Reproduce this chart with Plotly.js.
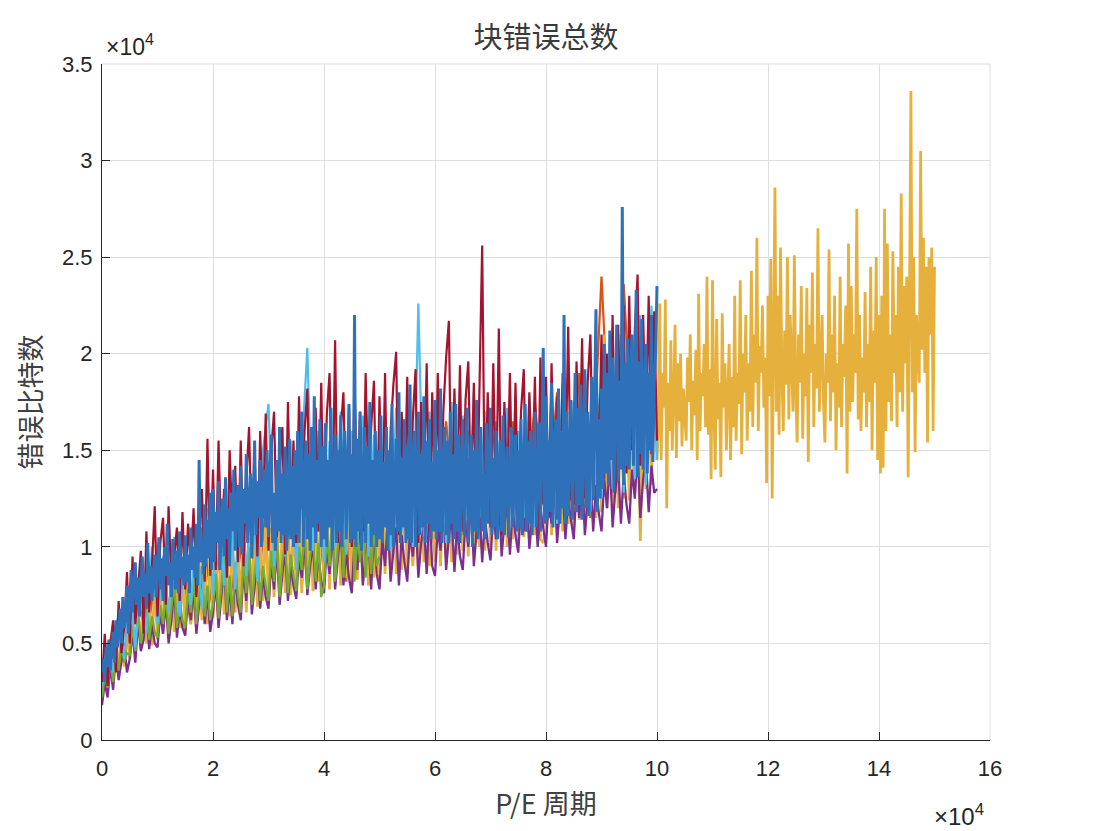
<!DOCTYPE html>
<html><head><meta charset="utf-8">
<script src="https://cdn.plot.ly/plotly-3.0.1.min.js"></script>
<style>html,body{margin:0;padding:0;background:#fff}#chart{width:1100px;height:831px}</style>
</head><body><div id="chart"></div>
<script>
// P/E cycle spacing of the samples of each series
const STEP_BLUE = 250, STEP_RED = 500, STEP_LIGHTBLUE = 1000, STEP_PURPLE = 500,
      STEP_GREEN = 500, STEP_ORANGE = 2000, STEP_YELLOW = 500;
const YELLOW_TAIL_START = 100000, STEP_YELLOW_TAIL = 250;

// Tick labels (MATLAB style, x10^4 multiplier)
const xTickVals = [0,20000,40000,60000,80000,100000,120000,140000,160000];
const xTickText = ['0','2','4','6','8','10','12','14','16'];
const yTickVals = [0,5000,10000,15000,20000,25000,30000,35000];
const yTickText = ['0','0.5','1','1.5','2','2.5','3','3.5'];

// Block error counts (bit errors)
const orangeVals = [2500,6000,4000,8000,5200,9000,5800,9800,6000,11000,
  6600,12000,7000,13000,7400,13500,7800,14000,8000,14500,
  8500,15000,8200,15500,8800,15000,9000,16000,9200,15500,
  9500,16500,9800,16000,10000,17000,10500,16500,10800,17500,
  11000,18000,11200,19000,11500,24000,12000,23600,13000,19500,
  16000];

const yellowVals = [2000,3800,2500,4500,3000,5200,3400,5800,3800,6000,
  4200,6600,4500,7000,4700,7200,5000,7500,4900,8000,
  5200,7800,5500,8200,5400,8500,5600,8000,5800,8800,
  5700,9000,6000,8600,5800,9200,6200,9500,6000,9800,
  6300,10000,6000,10500,6500,9800,6400,10800,6600,10200,
  6800,11000,6600,10500,7000,11200,6900,10800,7200,11500,
  7200,11000,7400,11800,7300,11200,7600,12000,7500,11500,
  7800,12200,7600,11800,8000,12500,7700,12000,8200,12800,
  8000,12200,7800,13000,8200,12500,8000,13200,8400,12600,
  8000,13000,8300,12500,8200,13500,8000,12800,8400,13000,
  8200,13200,8600,12800,8400,13600,8600,13000,8800,13800,
  8600,13200,9000,14000,8800,13400,9200,14200,9000,13600,
  9200,14000,9000,13500,9400,14400,9200,13800,9600,14200,
  9800,14000,9500,14500,9700,13800,10000,14600,9800,14200,
  10000,14500,9800,14000,10200,14800,10000,14200,10400,15000,
  10200,14500,10500,15200,10300,14600,10600,15000,10400,10200,
  10800,15500,10600,15000,11000,15800,10800,15200,11200,16000,
  11000,16200,11400,15500,11200,16500,11600,15800,11500,16800,
  11800,21000,12000,16200,12200,17500,12000,16800,12500,18000,
  12400,17200,12800,18500,10300,17000,13000,18200,13200,19000,
  14500];

// yellow series continues alone beyond 10x10^4 cycles
const yellowTailVals = [16200,22600,14500,19000,17200,22800,12000,18500,16000,20700,15000,17800,21500,14600,19500,16500,20000,15200,18200,17000,
  15500,19800,17500,21000,15000,18600,16800,20200,14500,23100,16000,19000,17800,20500,16200,24000,15800,19200,13500,23800,
  17000,14000,21800,16600,18500,13600,22100,17200,19500,15000,18000,20500,14500,18800,16200,23000,15500,19000,17400,23800,
  14800,20000,18000,22000,15500,19500,17000,24300,16200,21000,18500,26000,16000,20400,19000,22500,17200,19800,13300,23000,
  17800,24900,12500,20000,28600,17000,23000,15800,25500,19000,16000,21200,18400,25000,16600,22000,19500,17000,25100,18000,
  15400,21000,18500,23500,15600,20000,17800,23400,14400,21500,19000,24200,16200,20500,18200,26500,17000,19800,22000,17500,
  15400,20000,18500,25400,16500,21000,18000,23000,15000,19500,17200,24000,16200,20500,18800,22500,13800,25700,17000,23500,
  17500,21000,19000,27500,16600,22000,16000,19800,18000,23200,16200,20500,17500,24500,15000,21200,18500,25000,14500,22000,
  13800,23000,14100,27500,16000,25700,17500,21000,16500,25300,19000,22000,16200,24500,18000,28300,17000,23500,19500,24000,
  13600,23000,33600,18000,25000,14900,22000,20000,18500,30500,20200,26000,19000,24500,15400,25000,21000,25500,16000,24500];

const purpleVals = [1800,3000,2200,3800,2600,4400,3100,4000,5000,3500,
  4200,5600,4000,6200,4600,5200,6800,4700,6000,5000,
  4800,6600,5500,7200,5000,6200,7800,5300,6800,5800,
  5400,7400,6200,8000,5500,7000,8500,6000,7600,5600,
  6600,8200,5800,7500,9000,6200,8000,6000,8600,7000,
  6200,8800,7200,9500,6500,8000,9200,6800,8500,7400,
  6800,9200,7800,10000,7000,8600,9800,7200,9000,8000,
  7300,9500,8400,10500,7500,9000,10200,7800,9600,8200,
  7600,10000,8600,10800,7800,9400,11000,8000,9800,8400,
  7600,10200,8800,11200,8000,9600,10500,7800,11000,8600,
  7800,10400,9000,11500,8200,9800,11000,8000,10600,9200,
  8200,10800,9500,11800,8400,10200,11200,8600,12000,9000,
  8500,11000,9800,12200,8800,10500,11600,8700,11200,9500,
  8800,11400,10000,12500,9000,10800,12000,9200,11500,10200,
  9300,11800,10400,12800,9500,11200,12200,9600,12000,10600,
  9700,12200,10800,13000,9900,11500,12500,10000,12000,11000,
  10000,12600,11200,13500,10200,12000,13000,10400,12500,11400,
  10400,13000,11500,14000,10600,12400,13600,10800,13200,11800,
  10800,13500,12000,14500,11000,13000,14200,11200,13800,12200,
  11200,14000,12500,15000,11500,13500,14600,11800,14200,12800,
  13000];

const greenVals = [2200,3400,2700,4200,3000,4600,3600,5000,4000,4500,
  4400,6000,4600,6600,5000,5800,7000,5200,6400,5600,
  5300,7000,6000,7600,5500,6800,8200,5800,7200,6200,
  5800,7800,6600,8500,6000,7500,9000,6400,8000,6200,
  7000,8600,6300,8000,9500,6600,8500,6400,9200,7500,
  6600,9400,7600,10000,7000,8600,9800,7200,9000,8000,
  7200,9800,8200,10600,7400,9200,10400,7600,9600,8500,
  7700,10000,8800,11200,7800,9500,10800,8200,10200,7400,
  8000,10600,9000,11500,8200,10000,12000,8400,11000,13000,
  15800,8200,10800,9200,12000,8400,10500,8600,11200,9000,
  9500];

const lightBlueVals = [2800,5000,3500,6800,4200,8000,4800,9000,5500,10000,
  6000,9500,6600,10500,6400,10000,7000,11000,6800,12000,
  7500,13000,8000,12500,7800,14000,8500,13500,8200,15000,
  17400,9000,14500,9500,15500,8800,15000,20300,9800,16000,
  9200,15500,10000,17000,9600,16000,10200,16800,9500,15800,
  10500,16500,9800,17200,10800,16000,10000,22600,10500,17000,
  11000,16200,10200,17500,11200,16800,10600,18000,11500,17000,
  10800,16500,11200,17200,11000,16000,11500,17800,11000,17000,
  11800,18000,11200,18500,12000,17500,12200,19000,11800,20000,
  12500,19500,13000,21000,12800,20500,13500,22000,13200,22500,
  14500];

const darkRedVals = [3000,5500,2800,4800,6200,3500,7200,4500,5800,8700,
  5000,9500,6000,8000,9800,5500,10800,6600,9000,12100,
  6400,10200,11500,7000,12100,8000,9500,11000,7200,11800,
  7800,11200,9000,12000,7400,10500,13000,8200,15600,8500,
  14000,8800,15500,10000,13000,8400,15000,11000,14200,9200,
  15500,9000,13500,16200,10000,14800,9500,16000,11500,16900,
  9800,15000,17000,10500,13800,16200,9600,17500,11000,15500,
  10200,17800,12000,16000,18200,10000,15000,17200,10800,18500,
  10500,16800,19000,11000,20700,10200,16000,18000,11500,17200,
  10000,18500,12500,17000,10800,19000,13000,16200,18600,10400,
  17800,11200,19000,10000,16000,18400,20100,10600,17000,12000,
  18800,11000,16600,19200,10200,17500,13000,19500,10800,18000,
  11500,19000,10500,17000,19800,21700,11200,18200,12500,19400,
  10800,17600,19600,12000,18500,10500,19000,25600,11500,18000,
  11000,19500,12000,21300,10600,17500,13000,19000,11200,18500,
  11800,17000,19200,10800,18000,12500,18800,11000,19800,12200,
  18800,11500,19500,13000,17800,12000,19000,13500,21400,12500,
  12200,19600,14000,20800,12500,18500,21000,13000,19800,14200,
  21000,13500,20000,15000,22000,12800,21500,14500,22500,13800,
  23000,15000,21200,24100,14200,22000,16000,23000,14800,22200,
  15500];

const blueVals = [3500,4200,3000,4800,3800,5200,3600,4500,5600,4000,6200,4800,5500,6800,5000,7400,5800,6400,8000,5500,
  7200,8800,6600,8000,9200,7000,8400,6400,7800,9500,7400,8600,6800,10200,7600,9000,7200,8200,9600,7400,
  8800,10500,7800,9400,7200,10000,8500,11200,8000,9200,7400,10400,8800,7800,9800,7600,10800,8400,9500,8000,
  10600,8200,9600,7600,11000,8800,10000,8400,11200,8000,14500,9200,10500,8600,12200,9000,11400,9400,12800,8800,
  13000,9200,11800,10200,13400,8800,11200,12500,9500,13600,10400,12000,9000,12800,10800,14000,9800,12200,13200,10000,
  14200,9600,13000,11200,14800,10200,12000,13800,9400,12600,15500,10600,13400,11500,14500,10000,12800,14000,11000,15000,
  10500,13600,15800,10200,12800,9800,14500,10800,16200,10200,13800,10600,15200,9800,11000,15600,10400,14200,10000,15000,
  10600,16000,10200,14000,17000,10000,13500,15500,10400,14800,9800,16200,11000,17800,10200,14500,11200,16600,10000,15200,
  10400,16400,10000,14500,11000,17200,9800,13800,15800,10200,15000,10800,16800,10000,14200,16000,10400,13600,17400,10200,
  14800,10400,22000,10000,15600,10800,17000,9800,14000,16200,10200,15200,11200,17500,10000,14500,10600,16000,10000,15000,
  10400,16800,10200,14400,11000,16200,9800,15000,10600,17400,10000,13800,15600,10800,18000,10200,14600,11000,16600,10200,
  15200,10400,18400,10200,14200,16000,10000,13600,17000,10600,14800,11000,17800,10200,15500,11200,16600,10400,14400,10800,
  17600,10400,15000,10800,18200,10200,14200,16200,10600,15500,10200,17000,11200,14800,10400,17400,10800,15800,10200,14000,
  16600,10600,14500,17200,10200,13600,15800,10000,15000,10800,17600,10400,14200,16200,10800,13800,10400,16400,11200,15000,
  17200,10600,14600,11000,16000,10400,14000,15500,10800,16800,10600,13600,15200,10500,14400,16200,11000,13400,15800,10800,
  15000,11000,16600,10600,14200,17400,10800,15500,11200,16000,10600,14600,17000,11000,13800,16400,10800,15000,20300,11200,
  17800,11400,15500,11800,18500,11000,15000,16600,11400,18200,11200,16000,12000,22000,11200,17000,11600,15200,17600,11400,
  16000,19000,11800,17200,12200,18400,11400,15600,19200,12000,17000,11600,16200,18800,12400,17600,22300,11800,16600,12500,
  18200,13000,20500,13800,19000,13200,21200,14500,19800,12800,17500,21500,13400,18600,14000,27600,13200,19500,14200,20800,
  14000,18800,21000,14200,17800,23300,13600,19600,14800,21800,14000,18200,20500,13800,19000,15000,22000,14400,18500,20000,
  23500];

function pe(vals, step, start){ return vals.map((_, i) => (start || 0) + i * step); }

const yellowX = pe(yellowVals, STEP_YELLOW).concat(pe(yellowTailVals, STEP_YELLOW_TAIL, YELLOW_TAIL_START + STEP_YELLOW_TAIL));
const yellowY = yellowVals.concat(yellowTailVals);

// drawing order = MATLAB plotting order (later series on top)
const series = [
  {x: pe(orangeVals, STEP_ORANGE),       y: orangeVals,    c: '#D95319', w: 2.2},
  {x: yellowX,                           y: yellowY,       c: '#E5B13C', w: 2.8},
  {x: pe(purpleVals, STEP_PURPLE),       y: purpleVals,    c: '#7E2F8E', w: 2.3},
  {x: pe(greenVals, STEP_GREEN),         y: greenVals,     c: '#77AC30', w: 2.3},
  {x: pe(lightBlueVals, STEP_LIGHTBLUE), y: lightBlueVals, c: '#4DBEEE', w: 2.2},
  {x: pe(darkRedVals, STEP_RED),         y: darkRedVals,   c: '#A2142F', w: 2.2},
  {x: pe(blueVals, STEP_BLUE),           y: blueVals,      c: '#2F71B9', w: 3.0}
];

const traces = series.map(d => ({
  type: 'scatter', mode: 'lines',
  x: d.x, y: d.y,
  line: {color: d.c, width: d.w},
  hoverinfo: 'skip'
}));

const axisCommon = {
  showgrid: true, gridcolor: '#DEDEDE', gridwidth: 1,
  showline: true, linecolor: '#262626', linewidth: 1,
  ticks: 'inside', ticklen: 8, tickcolor: '#262626', tickwidth: 1,
  zeroline: false, mirror: false,
  tickfont: {family: 'Liberation Sans, Arial, sans-serif', size: 22, color: '#262626'}
};

const layout = {
  width: 1100, height: 831,
  margin: {l: 102, r: 110, t: 64, b: 91},
  paper_bgcolor: '#ffffff', plot_bgcolor: '#ffffff',
  showlegend: false, hovermode: false,
  font: {family: 'Liberation Sans, Arial, sans-serif', color: '#262626'},
  title: {
    text: '块错误总数',
    font: {family: 'Noto Sans CJK SC, sans-serif', size: 29, color: '#3a3a3a'},
    xref: 'paper', x: 0.5, xanchor: 'center',
    yref: 'container', y: 1 - 38/831, yanchor: 'middle'
  },
  xaxis: Object.assign({}, axisCommon, {
    range: [0, 160000], tickmode: 'array', tickvals: xTickVals, ticktext: xTickText,
    ticklabelstandoff: 9,
    title: {text: 'P/E 周期', standoff: 14,
      font: {family: 'Noto Sans CJK SC, Liberation Sans, sans-serif', size: 27, color: '#404040'}}
  }),
  yaxis: Object.assign({}, axisCommon, {
    range: [0, 35000], tickmode: 'array', tickvals: yTickVals, ticktext: yTickText,
    ticklabelstandoff: 4,
    title: {text: '错误比特数', standoff: 12,
      font: {family: 'Noto Sans CJK SC, sans-serif', size: 27, color: '#404040'}}
  }),
  shapes: [
    {type: 'line', xref: 'paper', yref: 'paper', x0: 0, x1: 1, y0: 1, y1: 1,
     line: {color: '#DEDEDE', width: 1}, layer: 'below'},
    {type: 'line', xref: 'paper', yref: 'paper', x0: 1, x1: 1, y0: 0, y1: 1,
     line: {color: '#DEDEDE', width: 1}, layer: 'below'}
  ],
  annotations: [
    {text: '×10<sup>4</sup>', xref: 'paper', yref: 'paper', x: 0, y: 1,
     xanchor: 'left', yanchor: 'bottom', xshift: 2, yshift: 2, showarrow: false,
     font: {family: 'Liberation Sans, Arial, sans-serif', size: 23, color: '#262626'}},
    {text: '×10<sup>4</sup>', xref: 'paper', yref: 'paper', x: 1, y: 0,
     xanchor: 'right', yanchor: 'top', yshift: -58, xshift: -4, showarrow: false,
     font: {family: 'Liberation Sans, Arial, sans-serif', size: 24, color: '#262626'}}
  ]
};

Plotly.newPlot('chart', traces, layout, {displayModeBar: false, staticPlot: true});
</script></body></html>
